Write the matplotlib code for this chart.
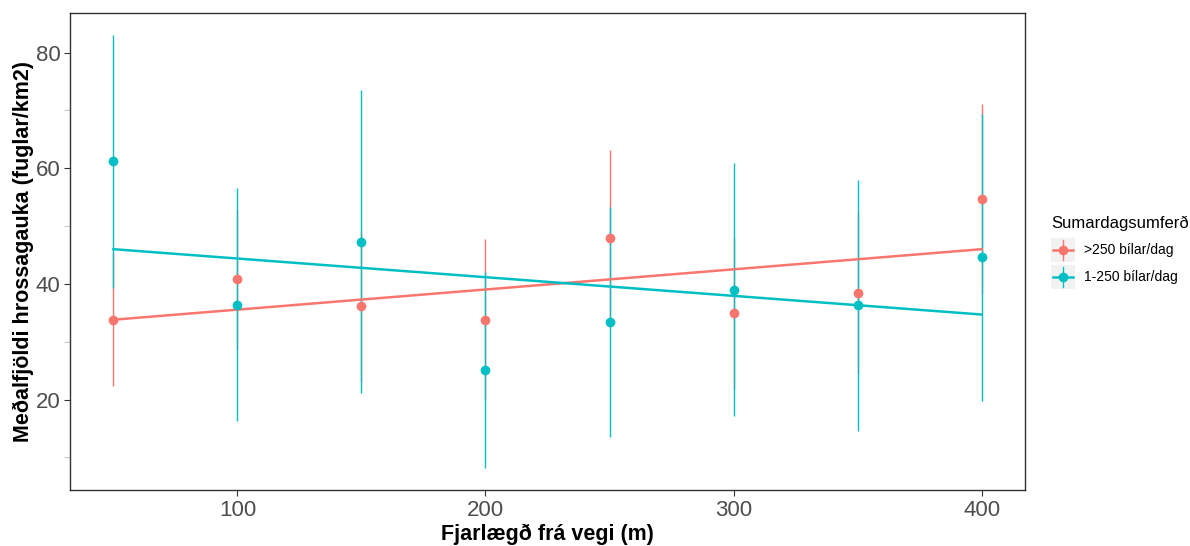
import numpy as np
import matplotlib.pyplot as plt
from matplotlib.patches import Rectangle
from matplotlib.lines import Line2D

plt.rcParams['font.family'] = ['Liberation Sans', 'DejaVu Sans']

# distance from road (m)
dist = [50, 100, 150, 200, 250, 300, 350, 400]

# >250 cars/day
red_mean = [33.8, 40.8, 36.1, 33.8, 47.9, 34.9, 38.5, 54.7]
red_err = [11.5, 12.0, 13.0, 13.9, 15.2, 13.0, 14.0, 16.4]
red_fit = [33.8, 46.0]

# 1-250 cars/day
blue_mean = [61.2, 36.4, 47.3, 25.1, 33.4, 39.0, 36.3, 44.6]
blue_err = [21.9, 20.1, 26.2, 17.0, 19.9, 21.9, 21.7, 24.8]
blue_fit = [46.0, 34.7]

groups = ['>250 bílar/dag', '1-250 bílar/dag']
red = '#F8766D'
blue = '#00BFC4'

W, H = 1190, 546
fig = plt.figure(figsize=(W / 100, H / 100), dpi=100)
ax = fig.add_axes([70 / W, (H - 490) / H, 955 / W, 477 / H])

series = [(red_mean, red_err, red_fit, red), (blue_mean, blue_err, blue_fit, blue)]
for mean, err, fit, col in series:
    ax.errorbar(dist, mean, yerr=err, fmt='none', ecolor=col, elinewidth=1.0, capsize=0)
for mean, err, fit, col in series:
    ax.plot([dist[0], dist[-1]], fit, color=col, lw=1.8)
for mean, err, fit, col in series:
    ax.plot(dist, mean, 'o', color=col, ms=7, mec='none')

ax.set_xlim(32.5, 417.5)
ax.set_ylim(4.35, 86.85)
ax.set_xticks([100, 200, 300, 400])
ax.set_yticks([20, 40, 60, 80])
ax.set_yticks([10, 30, 50, 70], minor=True)
ax.tick_params(axis='both', labelsize=16, labelcolor='#4D4D4D', color='#333333',
               length=4, width=0.8, pad=3)
ax.tick_params(axis='y', which='minor', length=4, width=0.8, color='#cccccc')
for s in ax.spines.values():
    s.set_color('#333333')
    s.set_linewidth(1.0)

ax.set_xlabel('Fjarlægð frá vegi (m)', fontsize=15.5, fontweight='bold', labelpad=2)
ax.set_ylabel('Meðalfjöldi hrossagauka (fuglar/km2)', fontsize=15.5, fontweight='bold', labelpad=1)

# legend drawn by hand (grey key boxes like ggplot)
def fx(px):
    return px / W

def fy(py):
    return 1 - py / H

fig.text(fx(1051), fy(223), 'Sumardagsumferð', fontsize=12, va='center', ha='left')
for i, (lab, col) in enumerate(zip(groups, [red, blue])):
    top = 238 + i * 27
    fig.add_artist(Rectangle((fx(1051), fy(top + 24)), 24 / W, 24 / H,
                             transform=fig.transFigure, facecolor='#F2F2F2', edgecolor='none'))
    cy = top + 12
    fig.add_artist(Line2D([fx(1053), fx(1073)], [fy(cy), fy(cy)], transform=fig.transFigure,
                          color=col, lw=1.8))
    fig.add_artist(Line2D([fx(1063), fx(1063)], [fy(top + 2), fy(top + 22)],
                          transform=fig.transFigure, color=col, lw=1.0))
    fig.add_artist(Line2D([fx(1063)], [fy(cy)], transform=fig.transFigure,
                          marker='o', ms=7, color=col, mec='none'))
    fig.text(fx(1084), fy(cy), lab, fontsize=10, va='center', ha='left')

fig.savefig('out.png', dpi=100)
